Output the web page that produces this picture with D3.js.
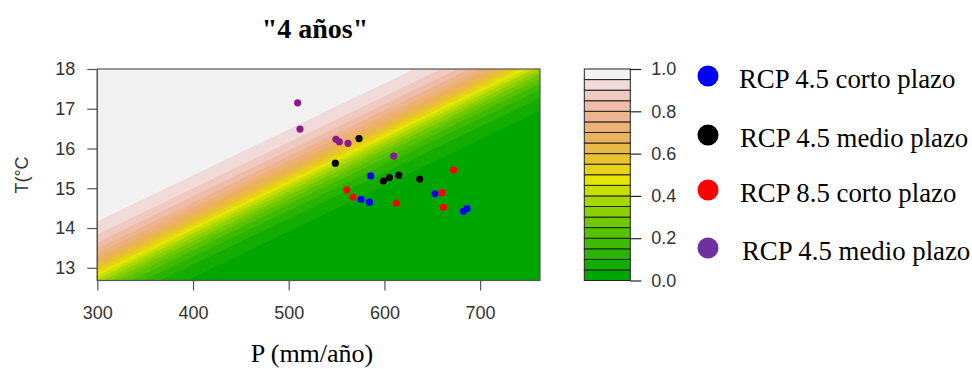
<!DOCTYPE html>
<html>
<head>
<meta charset="utf-8">
<script src="https://cdn.jsdelivr.net/npm/d3@7"></script>
<style>
  body { margin: 0; background: #fff; }
  svg { display: block; }
</style>
</head>
<body>
<svg id="chart" width="972" height="369"></svg>
<script>
'use strict';

// ---- data ----
var xTicks = [300, 400, 500, 600, 700];
var yTicks = [13, 14, 15, 16, 17, 18];
var barTicks = [0, 0.2, 0.4, 0.6, 0.8, 1.0];

// contour boundaries (prob. levels) given as T at P=300 and at P=760
var levels = [0.05, 0.10, 0.15, 0.20, 0.25, 0.30, 0.35, 0.40, 0.45, 0.50,
              0.55, 0.60, 0.65, 0.70, 0.75, 0.80, 0.85, 0.90, 0.95];
var levelT300 = [11.594, 11.921, 12.122, 12.275, 12.400, 12.510, 12.610, 12.703, 12.792, 12.880,
                 12.968, 13.057, 13.150, 13.250, 13.360, 13.485, 13.638, 13.839, 14.166];
var levelT760 = [16.921, 17.248, 17.449, 17.602, 17.727, 17.837, 17.937, 18.030, 18.119, 18.207,
                 18.295, 18.384, 18.477, 18.577, 18.687, 18.812, 18.965, 19.166, 19.493];

// scenario points
var rcp45cortoP = [585.7, 575.6, 584.3, 652.9, 682.5, 686.3];
var rcp45cortoT = [15.31, 14.72, 14.65, 14.86, 14.42, 14.49];
var rcp45medioP = [573.5, 548.7, 598.9, 605.2, 615.0, 636.9];
var rcp45medioT = [16.25, 15.63, 15.18, 15.27, 15.33, 15.23];
var rcp85cortoP = [560.6, 567.2, 612.4, 672.4, 660.2, 661.6];
var rcp85cortoT = [14.96, 14.78, 14.63, 15.46, 14.89, 14.52];
var rcp85medioP = [509.4, 511.8, 549.4, 552.9, 562.0, 609.7];
var rcp85medioT = [17.15, 16.49, 16.23, 16.17, 16.13, 15.81];

var legendLabels = ['RCP 4.5 corto plazo', 'RCP 4.5 medio plazo', 'RCP 8.5 corto plazo', 'RCP 4.5 medio plazo'];
var pointColors = ['#0000ff', '#000000', '#ff0000', '#8b1a8b'];
var legendColors = ['#0000ff', '#000000', '#ff0000', '#7030a0'];

// ---- layout ----
var plot = { left: 97.3, right: 540, top: 69, bottom: 280.5 };
var bar = { left: 584.3, right: 630.3 };
var legendRows = [76, 135, 190, 248];
var legendTextX = [739, 740, 740, 742];
var sans = 'Liberation Sans, Arial, sans-serif';
var serif = 'Liberation Serif, Times New Roman, serif';

var svg = d3.select('#chart');

var x = d3.scaleLinear().domain([300, 762.6]).range([plot.left, plot.right]);
var y = d3.scaleLinear().domain([12.68, 18]).range([plot.bottom, plot.top]);
var yBar = d3.scaleLinear().domain([0, 1]).range([plot.bottom, plot.top]);

// R style terrain.colors(n)
function hsv(h, s, v) {
  var i = Math.floor(h * 6), f = h * 6 - i;
  var p = v * (1 - s), q = v * (1 - f * s), t = v * (1 - (1 - f) * s);
  var rgb = [[v, t, p], [q, v, p], [p, v, t], [p, q, v], [t, p, v], [v, p, q]][i % 6];
  return d3.rgb(rgb[0] * 255, rgb[1] * 255, rgb[2] * 255).formatHex();
}
function terrainColors(n) {
  var k = Math.floor(n / 2), out = [];
  for (var i = 0; i < k; i++) {
    var a = k > 1 ? i / (k - 1) : 0;
    out.push(hsv(4 / 12 + (2 / 12 - 4 / 12) * a, 1, 0.65 + 0.25 * a));
  }
  var m = n - k + 1;
  for (var j = 1; j < m; j++) {
    var b = j / (m - 1);
    out.push(hsv(2 / 12 * (1 - b), 1 - b, 0.9 + 0.05 * b));
  }
  return out;
}
var bandColors = terrainColors(levels.length + 1);

// ---- filled contour ----
svg.append('defs').append('clipPath').attr('id', 'plotClip')
  .append('rect')
  .attr('x', plot.left).attr('y', plot.top)
  .attr('width', plot.right - plot.left).attr('height', plot.bottom - plot.top);

var field = svg.append('g').attr('clip-path', 'url(#plotClip)');

field.append('rect')
  .attr('x', plot.left).attr('y', plot.top)
  .attr('width', plot.right - plot.left).attr('height', plot.bottom - plot.top)
  .attr('fill', bandColors[0]);

function lineT(i, p) {
  return levelT300[i] + (levelT760[i] - levelT300[i]) * (p - 300) / 460;
}

field.selectAll('path.band')
  .data(levels)
  .enter().append('path')
  .attr('class', 'band')
  .attr('fill', function(d, i) { return bandColors[i + 1]; })
  .attr('d', function(d, i) {
    var p0 = 280, p1 = 790;
    return 'M' + x(p0) + ',' + y(lineT(i, p0)) +
      'L' + x(p1) + ',' + y(lineT(i, p1)) +
      'L' + x(p1) + ',' + y(30) +
      'L' + x(p0) + ',' + y(30) + 'Z';
  });

// ---- points ----
var series = [
  { P: rcp45cortoP, T: rcp45cortoT, color: pointColors[0] },
  { P: rcp45medioP, T: rcp45medioT, color: pointColors[1] },
  { P: rcp85cortoP, T: rcp85cortoT, color: pointColors[2] },
  { P: rcp85medioP, T: rcp85medioT, color: pointColors[3] }
];

series.forEach(function(s) {
  svg.append('g').selectAll('circle')
    .data(s.P)
    .enter().append('circle')
    .attr('cx', function(d) { return x(d); })
    .attr('cy', function(d, i) { return y(s.T[i]); })
    .attr('r', 3.6)
    .attr('fill', s.color);
});

// ---- axes ----
var axisColor = '#555';

svg.append('rect')
  .attr('x', plot.left).attr('y', plot.top)
  .attr('width', plot.right - plot.left).attr('height', plot.bottom - plot.top)
  .attr('fill', 'none').attr('stroke', axisColor).attr('stroke-width', 1.2);

var xAxis = svg.append('g')
  .attr('transform', 'translate(0,' + plot.bottom + ')')
  .call(d3.axisBottom(x).tickValues(xTicks).tickFormat(d3.format('d')).tickSize(10).tickPadding(16).tickSizeOuter(0));
var yAxis = svg.append('g')
  .attr('transform', 'translate(' + plot.left + ',0)')
  .call(d3.axisLeft(y).tickValues(yTicks).tickFormat(d3.format('d')).tickSize(10).tickPadding(12).tickSizeOuter(0));

[xAxis, yAxis].forEach(function(a) {
  a.select('.domain').attr('stroke', axisColor).attr('stroke-width', 1.2);
  a.selectAll('.tick line').attr('stroke', axisColor).attr('stroke-width', 1.2);
  a.selectAll('.tick text').attr('fill', '#333').style('font-family', sans).style('font-size', '18px');
});
xAxis.select('.domain').attr('d', 'M' + x(300) + ',0H' + plot.right);
yAxis.select('.domain').attr('d', 'M0,' + plot.bottom + 'V' + y(18));

// ---- titles ----
svg.append('text')
  .attr('x', 315).attr('y', 38)
  .attr('text-anchor', 'middle')
  .style('font-family', serif).style('font-weight', 'bold').style('font-size', '28px')
  .text('"4 años"');

svg.append('text')
  .attr('x', 312).attr('y', 362)
  .attr('text-anchor', 'middle')
  .style('font-family', serif).style('font-size', '26px')
  .text('P (mm/año)');

svg.append('text')
  .attr('transform', 'translate(28,175) rotate(-90)')
  .attr('text-anchor', 'middle')
  .attr('fill', '#333')
  .style('font-family', sans).style('font-size', '18px')
  .text('T(°C');

// ---- colour key ----
var barG = svg.append('g');
barG.selectAll('rect')
  .data(bandColors)
  .enter().append('rect')
  .attr('x', bar.left)
  .attr('y', function(d, i) { return yBar((i + 1) / bandColors.length); })
  .attr('width', bar.right - bar.left)
  .attr('height', function(d, i) { return yBar(i / bandColors.length) - yBar((i + 1) / bandColors.length); })
  .attr('fill', function(d) { return d; })
  .attr('stroke', '#222').attr('stroke-width', 1);

var barAxis = svg.append('g')
  .attr('transform', 'translate(' + bar.right + ',0)')
  .call(d3.axisRight(yBar).tickValues(barTicks).tickFormat(d3.format('.1f')).tickSize(11).tickPadding(10).tickSizeOuter(0));
barAxis.select('.domain').remove();
barAxis.selectAll('.tick line').attr('stroke', '#222').attr('stroke-width', 1.2);
barAxis.selectAll('.tick text').attr('fill', '#333').style('font-family', sans).style('font-size', '18px');

// ---- legend ----
var legend = svg.append('g');
legendLabels.forEach(function(label, i) {
  legend.append('circle')
    .attr('cx', 708).attr('cy', legendRows[i])
    .attr('r', 10.5)
    .attr('fill', legendColors[i]);
  legend.append('text')
    .attr('x', legendTextX[i]).attr('y', legendRows[i] + 12)
    .style('font-family', serif).style('font-size', '26.8px')
    .text(label);
});
</script>
</body>
</html>
